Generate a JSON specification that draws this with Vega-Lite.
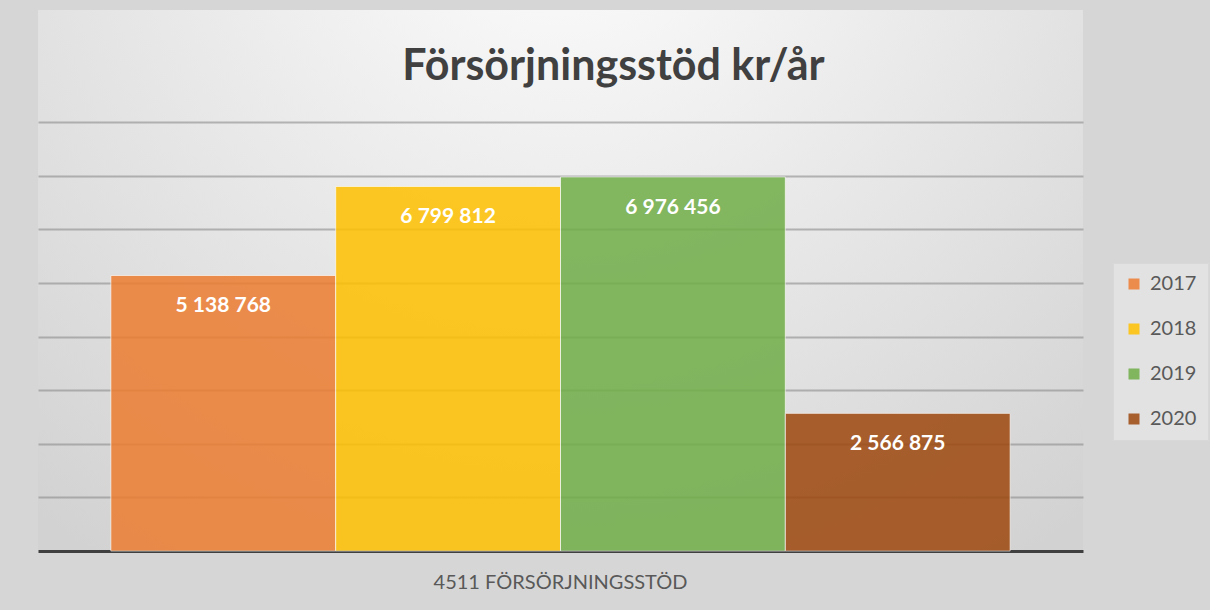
{
  "$schema": "https://vega.github.io/schema/vega-lite/v6.json",
  "width": 1045,
  "height": 541,
  "autosize": {"type": "none"},
  "padding": {"left": 38, "top": 10, "right": 127, "bottom": 59},
  "background": "#d6d6d6",
  "title": {
    "text": "Försörjningsstöd kr/år",
    "fontSize": 43,
    "font": "Lato",
    "fontWeight": "bold",
    "color": "#404040",
    "offset": -79,
    "dx": 53,
    "anchor": "middle",
    "frame": "group"
  },
  "data": {
    "values": [
      {"kategori": "4511 FÖRSÖRJNINGSSTÖD", "år": "2017", "belopp": 5138768},
      {"kategori": "4511 FÖRSÖRJNINGSSTÖD", "år": "2018", "belopp": 6799812},
      {"kategori": "4511 FÖRSÖRJNINGSSTÖD", "år": "2019", "belopp": 6976456},
      {"kategori": "4511 FÖRSÖRJNINGSSTÖD", "år": "2020", "belopp": 2566875}
    ]
  },
  "encoding": {
    "x": {
      "field": "kategori",
      "type": "nominal",
      "scale": {"paddingOuter": 0.081, "paddingInner": 0},
      "axis": {
        "title": null,
        "ticks": false,
        "labelAngle": 0,
        "labelLimit": 0,
        "labelFont": "Lato",
        "labelFontSize": 20,
        "labelColor": "#595959",
        "labelPadding": 21,
        "domainColor": "#404040",
        "domainWidth": 3
      }
    },
    "xOffset": {
      "field": "år",
      "type": "nominal",
      "scale": {"paddingInner": 0, "paddingOuter": 0}
    },
    "y": {
      "field": "belopp",
      "type": "quantitative",
      "scale": {"domain": [0, 10090000], "nice": false},
      "axis": {
        "values": [1000000, 2000000, 3000000, 4000000, 5000000, 6000000, 7000000, 8000000],
        "labels": false,
        "ticks": false,
        "domain": false,
        "title": null,
        "grid": true,
        "gridColor": "#8c8c8c",
        "gridOpacity": 0.6,
        "gridWidth": 2
      }
    }
  },
  "layer": [
    {
      "mark": {"type": "bar", "opacity": 0.85, "stroke": "#ffffff", "strokeWidth": 1, "strokeOpacity": 0.7},
      "encoding": {
        "color": {
          "field": "år",
          "type": "nominal",
          "scale": {"range": ["#ED7D31", "#FFC000", "#70AD47", "#9E480E"]},
          "legend": {
            "title": null,
            "orient": "none",
            "legendX": 1075,
            "legendY": 253,
            "symbolType": "square",
            "symbolSize": 121,
            "symbolStrokeWidth": 0,
            "labelFont": "Lato",
            "labelFontSize": 20,
            "labelColor": "#595959",
            "labelOffset": 6,
            "rowPadding": 25,
            "padding": 11,
            "fillColor": "#e2e2e2",
            "strokeColor": "#d8d8d8"
          }
        }
      }
    },
    {
      "mark": {"type": "text", "color": "#ffffff", "fontSize": 21, "fontWeight": "bold", "font": "Lato", "baseline": "middle", "dy": 31},
      "encoding": {
        "text": {"field": "belopp", "type": "quantitative", "format": ",d"}
      }
    }
  ],
  "config": {
    "view": {
      "stroke": null,
      "fill": {
        "gradient": "radial",
        "x1": 0.5, "y1": 0.1, "r1": 0,
        "x2": 0.5, "y2": 0.1, "r2": 0.8,
        "stops": [
          {"offset": 0, "color": "#ffffff"},
          {"offset": 1, "color": "#d2d2d2"}
        ]
      }
    },
    "locale": {
      "number": {"decimal": ",", "thousands": "\u00a0", "grouping": [3], "currency": ["", " kr"]}
    }
  }
}
